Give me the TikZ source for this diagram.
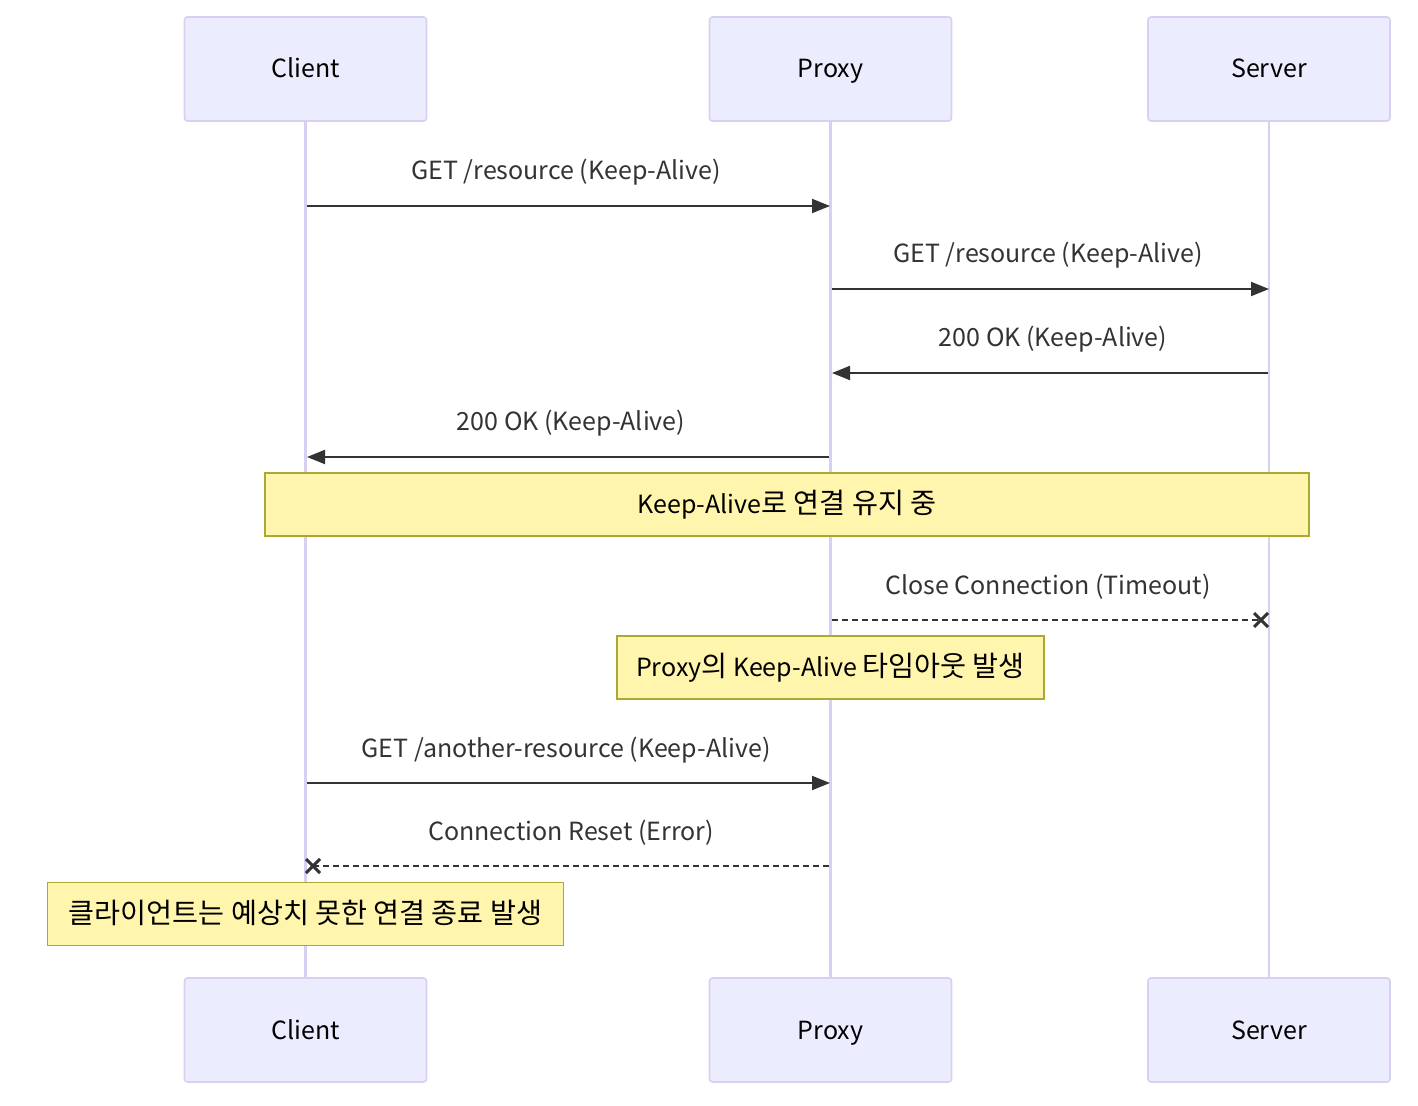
\documentclass[tikz,border=0pt]{standalone}
\usepackage{fontspec}
\setmainfont{Noto Sans CJK KR}
\newfontfamily\kr{Noto Sans CJK KR}[Scale=1.13]
\usetikzlibrary{arrows.meta}
\usetikzlibrary{shapes.misc}

\definecolor{actorfill}{HTML}{ECECFF}
\definecolor{actorline}{HTML}{D9CFF2}
\definecolor{notefill}{HTML}{FFF5AD}
\definecolor{noteline}{HTML}{AAAA33}
\definecolor{msgline}{HTML}{333333}

\begin{document}
\begin{tikzpicture}[
        x=0.5pt, y=-0.5pt,
        >={Triangle[length=9pt,width=7pt]},
        font=\fontsize{12.5}{15}\selectfont,
        actor/.style={draw=actorline, line width=0.8pt, fill=actorfill,
            rounded corners=1.5pt, minimum width=121pt, minimum height=52pt,
            inner sep=0pt, text=black, text height=9pt, text depth=0pt},
        lifeline/.style={draw=actorline, line width=1.2pt},
        msg/.style={draw=msgline, line width=1pt},
        reply/.style={msg, dash pattern=on 3pt off 2pt},
        msglabel/.style={text=msgline, inner sep=0pt,
            text height=9pt, text depth=0pt},
        note/.style={draw=noteline, line width=0.6pt, fill=notefill,
            minimum height=31.5pt, inner sep=0pt, text=black,
            text height=9pt, text depth=0pt},
        crossmark/.style={cross out, draw=msgline, line width=1.5pt,
            minimum size=5.5pt, inner sep=0pt},
    ]

    \useasboundingbox (0,0) rectangle (1418,1106);

    % actors
    \node[actor] (client) at (305.5, 69) {Client};
    \node[actor] (proxy)  at (830.5, 69) {Proxy};
    \node[actor] (server) at (1269, 69) {Server};
    \node[actor] (clientB) at (305.5, 1030) {Client};
    \node[actor] (proxyB)  at (830.5, 1030) {Proxy};
    \node[actor] (serverB) at (1269, 1030) {Server};

    % lifelines
    \draw[lifeline] (client.south) -- (clientB.north);
    \draw[lifeline] (proxy.south) -- (proxyB.north);
    \draw[lifeline] (server.south) -- (serverB.north);

    % message end points
    \coordinate (c1) at (307, 206);  \coordinate (p1) at (830, 206);
    \coordinate (p2) at (832, 289);  \coordinate (s2) at (1269, 289);
    \coordinate (s3) at (1268, 373); \coordinate (p3) at (832, 373);
    \coordinate (p4) at (829, 457);  \coordinate (c4) at (307, 457);
    \coordinate (p5) at (832, 620);  \coordinate (s5) at (1261, 620);
    \coordinate (c6) at (307, 783);  \coordinate (p6) at (830, 783);
    \coordinate (p7) at (829, 866);  \coordinate (c7) at (313, 866);

    % messages
    \draw[msg, ->] (c1) -- (p1);
    \node[msglabel] (m1) at (566, 171) {GET /resource (Keep-Alive)};

    \draw[msg, ->] (p2) -- (s2);
    \node[msglabel] (m2) at (1048, 254) {GET /resource (Keep-Alive)};

    \draw[msg, ->] (s3) -- (p3);
    \node[msglabel] (m3) at (1053, 338) {200 OK (Keep-Alive)};

    \draw[msg, ->] (p4) -- (c4);
    \node[msglabel] (m4) at (571, 422) {200 OK (Keep-Alive)};

    \node[note, minimum width=522pt] (n1) at (787, 504.5)
        {Keep-Alive{\kr 로 연결 유지 중}};

    \draw[reply] (p5) -- (s5);
    \node[crossmark] (x5) at (s5) {};
    \node[msglabel] (m5) at (1048, 585) {Close Connection (Timeout)};

    \node[note, minimum width=213.5pt] (n2) at (830.5, 667.5)
        {Proxy{\kr 의} Keep-Alive {\kr 타임아웃 발생}};

    \draw[msg, ->] (c6) -- (p6);
    \node[msglabel] (m6) at (566, 748) {GET /another-resource (Keep-Alive)};

    \draw[reply] (p7) -- (c7);
    \node[crossmark] (x7) at (c7) {};
    \node[msglabel] (m7) at (571, 831) {Connection Reset (Error)};

    \node[note, minimum width=258pt] (n3) at (305.5, 914)
        {\kr 클라이언트는 예상치 못한 연결 종료 발생};

\end{tikzpicture}
\end{document}
